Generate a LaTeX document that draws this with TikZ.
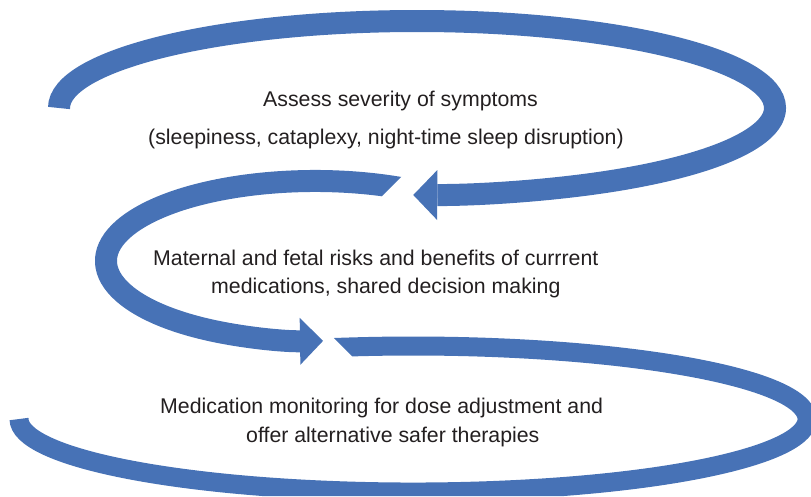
\documentclass[tikz,border=0pt]{standalone}
\usepackage{fontspec}
\setmainfont{Liberation Sans}
\usetikzlibrary{arrows.meta}
\definecolor{loopblue}{RGB}{71,114,182}
\definecolor{txtgray}{RGB}{35,31,32}

\begin{document}
\begin{tikzpicture}[x=1pt, y=1pt,
  band/.style={draw=loopblue, line width=22pt},
  steptext/.style={anchor=base west, inner sep=0pt, text=txtgray,
    font=\fontsize{21.3}{26}\selectfont}]
\useasboundingbox (0,0) rectangle (811,-496);

% start points of the three loops
\coordinate (s1) at (59,-108);
\coordinate (s2) at (419.5,-191.7);
\coordinate (s3) at (324.4,-347.9);

% top loop, turns back to the left
\draw[band, -{Triangle[length=24pt, width=50pt, line width=0pt]}]
  (s1) arc[start angle=180, end angle=-90.6, x radius=358pt, y radius=87pt];

% middle loop, slanted cut at its start
\begin{scope}[even odd rule]
  \clip (0,0) rectangle (811,-496)
    (420,-158) -- (480,-158) -- (480,-205) -- (373,-205) -- cycle;
  \draw[band, -{Triangle[length=23pt, width=47pt, line width=0pt]}]
    (s2) arc[start angle=60, end angle=272.2, x radius=209pt, y radius=80pt];
\end{scope}

% bottom loop, open at the left
\begin{scope}[even odd rule]
  \clip (0,0) rectangle (811,-496)
    (316,-320) -- (361,-365) -- (290,-365) -- (290,-320) -- cycle;
  \draw[band, line width=19pt]
    (s3) arc[start angle=103, end angle=-180, x radius=394pt, y radius=73pt];
\end{scope}

\node[steptext] (assess) at (263,-106) {Assess severity of symptoms};
\node[steptext] (symptoms) at (148,-144) {(sleepiness, cataplexy, night-time sleep disruption)};
\node[steptext] (risks) at (153,-265) {Maternal and fetal risks and benefits of currrent};
\node[steptext] (shared) at (211,-293) {medications, shared decision making};
\node[steptext] (monitor) at (160,-413) {Medication monitoring for dose adjustment and};
\node[steptext] (safer) at (246,-442) {offer alternative safer therapies};
\end{tikzpicture}
\end{document}
